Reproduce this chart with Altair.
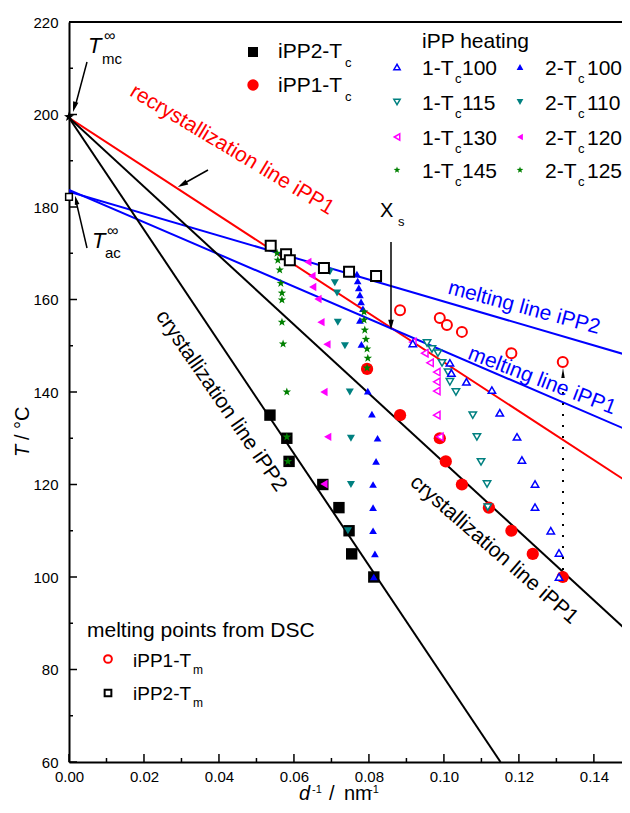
import altair as alt
import pandas as pd

# ---------------- data ----------------
# straight lines (two end points each)
line_x = [0.0, 0.15]
recryst_T = [199.3, 120.0]      # recrystallization line iPP1 (red)
melt2_T = [183.3, 147.7]        # melting line iPP2 (blue)
melt1_T = [183.7, 131.4]        # melting line iPP1 (blue)
cryst1_T = [199.3, 87.5]        # crystallization line iPP1 (black)
cryst2_x = [0.0, 0.1151]
cryst2_T = [199.3, 60.0]        # crystallization line iPP2 (black)

# crystallization temperatures
ipp2_tc_x = [0.0536, 0.0581, 0.0587, 0.0677, 0.0720, 0.0747, 0.0754, 0.0813]
ipp2_tc_T = [135, 130, 125, 120, 115, 110, 105, 100]
ipp1_tc_x = [0.0795, 0.0883, 0.0989, 0.1005, 0.1048, 0.1120, 0.1180, 0.1237, 0.1317]
ipp1_tc_T = [145, 135, 130, 125, 120, 115, 110, 105, 100]

# melting points from DSC
ipp1_tm_x = [0.0883, 0.0989, 0.1008, 0.1048, 0.1180, 0.1317]
ipp1_tm_T = [157.7, 156.0, 154.5, 153.0, 148.4, 146.5]
ipp2_tm_x = [0.0538, 0.0579, 0.0589, 0.0680, 0.0747, 0.0819]
ipp2_tm_T = [171.6, 169.8, 168.5, 166.8, 166.0, 165.1]

# iPP heating series
h1_100_x = [0.0917, 0.1016, 0.1020, 0.1060, 0.1128, 0.1149, 0.1195, 0.1208, 0.1243, 0.1243, 0.1285, 0.1307, 0.1307]
h1_100_T = [150.5, 146.3, 144.1, 142.2, 140.4, 135.5, 130.3, 125.3, 120.1, 115.1, 110.0, 105.2, 100.0]
h1_115_x = [0.0955, 0.0968, 0.0984, 0.0995, 0.1011, 0.1016, 0.1032, 0.1077, 0.1088, 0.1099, 0.1115, 0.1117]
h1_115_T = [150.6, 149.3, 148.4, 146.3, 144.3, 142.2, 140.0, 135.0, 130.3, 124.9, 120.1, 115.1]
h1_130_x = [0.0917, 0.0949, 0.0963, 0.0981, 0.0981, 0.0981, 0.0981, 0.0989]
h1_130_T = [150.8, 148.4, 146.3, 144.3, 142.2, 140.2, 135.0, 130.3]
h1_145_x = [0.0795, 0.0797, 0.0795, 0.0792, 0.0789, 0.0787, 0.0787]
h1_145_T = [145.2, 147.3, 149.3, 151.4, 153.4, 155.6, 157.3]

h2_100_x = [0.0768, 0.0770, 0.0773, 0.0776, 0.0779, 0.0784, 0.0776, 0.0780, 0.0797, 0.0808,
            0.0823, 0.0819, 0.0811, 0.0811, 0.0811, 0.0816, 0.0813]
h2_100_T = [165.5, 164.0, 162.5, 161.0, 159.5, 158.0, 155.5, 150.3, 140.2, 135.2,
            130.0, 125.0, 120.0, 115.0, 110.0, 105.0, 100.0]
h2_110_x = [0.0696, 0.0709, 0.0715, 0.0717, 0.0736, 0.0749, 0.0752, 0.0752, 0.0744]
h2_110_T = [166.0, 163.6, 161.4, 155.1, 150.0, 140.0, 130.0, 120.0, 110.0]
h2_120_x = [0.0637, 0.0648, 0.0650, 0.0664, 0.0672, 0.0688, 0.0680, 0.0690, 0.0680]
h2_120_T = [168.1, 165.1, 162.7, 160.1, 155.1, 150.3, 140.0, 130.3, 120.1]
h2_125_x = [0.0555, 0.0557, 0.0562, 0.0565, 0.0568, 0.0568, 0.0568, 0.0571, 0.0581, 0.0581, 0.0584]
h2_125_T = [170.0, 168.5, 166.4, 163.5, 161.4, 159.9, 155.1, 150.4, 140.0, 130.3, 125.0]

# extrapolated equilibrium temperatures at d^-1 = 0
t_mc_x, t_mc_T = [0.0], [199.5]
t_ac_x, t_ac_T = [0.0], [182.2]

x_major = [0.00, 0.02, 0.04, 0.06, 0.08, 0.10, 0.12, 0.14]
x_minor = [0.01, 0.03, 0.05, 0.07, 0.09, 0.11, 0.13]
y_major = [60, 80, 100, 120, 140, 160, 180, 200, 220]
y_minor = [70, 90, 110, 130, 150, 170, 190, 210]

heat_col1 = ["100", "115", "130", "145"]
heat_col2 = ["100", "110", "120", "125"]

# ---------------- layout / styles ----------------
FONT = "Liberation Sans"
W, H = 553, 740
PL, PT, PR, PB = 61, 14, 0, 43
X0, Y0 = 8 + PL, 8 + PT

xs = alt.Scale(domain=[0, 0.1475], nice=False, zero=False)
ys = alt.Scale(domain=[60, 220], nice=False, zero=False)

STAR = "M0,-1L0.235,-0.324L0.951,-0.309L0.38,0.124L0.588,0.809L0,0.4L-0.588,0.809L-0.38,0.124L-0.951,-0.309L-0.235,-0.324Z"
ARROW = "M0,-1L0.45,0.7L-0.45,0.7Z"
WEDGE = "M0,-1L0.35,1L-0.35,1Z"

BLUE, TEAL, MAG, GREEN = "#0000ff", "#008080", "#ff00ff", "#008000"

one = pd.DataFrame({"a": [0]})

XAXIS = alt.Axis(values=x_major, format=".2f", ticks=False, tickSize=0, domain=True, domainColor="black",
                 domainWidth=2, labelFont=FONT, labelFontSize=15, labelColor="black", labelPadding=7,
                 labelFlush=False, labelOverlap=False, grid=False, title=None)
YAXIS = alt.Axis(values=y_major, format="d", ticks=False, tickSize=0, domain=True, domainColor="black",
                 domainWidth=2, labelFont=FONT, labelFontSize=15, labelColor="black", labelPadding=11,
                 labelFlush=False, labelOverlap=False, grid=False, title=None)


def xenc():
    return alt.X("x:Q", scale=xs, axis=XAXIS)


def yenc():
    return alt.Y("T:Q", scale=ys, axis=YAXIS)


def line(xv, tv, color, width=2):
    df = pd.DataFrame({"x": xv, "T": tv})
    return alt.Chart(df).mark_line(color=color, strokeWidth=width, clip=True).encode(x=xenc(), y=yenc())


def scatter(xv, tv, shape, size, fill, stroke=None, sw=0.0):
    df = pd.DataFrame({"x": xv, "T": tv})
    kw = dict(shape=shape, size=size, filled=True, fill=fill, opacity=1, fillOpacity=1)
    if stroke is not None:
        kw.update(stroke=stroke, strokeWidth=sw, strokeOpacity=1)
    else:
        kw.update(strokeWidth=0)
    return alt.Chart(df).mark_point(**kw).encode(x=xenc(), y=yenc())


def sym(px, py, shape, size, fill, stroke=None, sw=0.0, angle=0):
    kw = dict(shape=shape, size=size, filled=True, fill=fill, opacity=1, fillOpacity=1, angle=angle)
    if stroke is not None:
        kw.update(stroke=stroke, strokeWidth=sw, strokeOpacity=1)
    else:
        kw.update(strokeWidth=0)
    return alt.Chart(one).mark_point(**kw).encode(x=alt.value(px - X0), y=alt.value(py - Y0))


def txt(s, px, py, size=20, color="black", style="normal", angle=0, align="left", baseline="alphabetic"):
    return alt.Chart(one).mark_text(
        text=s, font=FONT, fontSize=size, color=color, fontStyle=style, angle=angle,
        align=align, baseline=baseline).encode(x=alt.value(px - X0), y=alt.value(py - Y0))


def seg(x1, y1, x2, y2, width=1.5, color="black", dash=None):
    kw = dict(color=color, strokeWidth=width)
    if dash is not None:
        kw["strokeDash"] = dash
    return alt.Chart(one).mark_rule(**kw).encode(
        x=alt.value(x1 - X0), y=alt.value(y1 - Y0), x2=alt.value(x2 - X0), y2=alt.value(y2 - Y0))


layers = []
# lines
layers.append(line(line_x, recryst_T, "red"))
layers.append(line(line_x, melt2_T, BLUE))
layers.append(line(line_x, melt1_T, BLUE))
layers.append(line(line_x, cryst1_T, "black"))
layers.append(line(cryst2_x, cryst2_T, "black"))

# inward ticks and top frame
layers.append(alt.Chart(pd.DataFrame({"x": x_major})).mark_rule(color="black", strokeWidth=1.5).encode(
    x=xenc(), y=alt.value(H), y2=alt.value(H - 8)))
layers.append(alt.Chart(pd.DataFrame({"x": x_minor})).mark_rule(color="black", strokeWidth=1.5).encode(
    x=xenc(), y=alt.value(H), y2=alt.value(H - 4)))
layers.append(alt.Chart(pd.DataFrame({"T": y_major})).mark_rule(color="black", strokeWidth=1.5).encode(
    y=yenc(), x=alt.value(0), x2=alt.value(8)))
layers.append(alt.Chart(pd.DataFrame({"T": y_minor})).mark_rule(color="black", strokeWidth=1.5).encode(
    y=yenc(), x=alt.value(0), x2=alt.value(4)))
layers.append(alt.Chart(one).mark_rule(color="black", strokeWidth=2).encode(
    x=alt.value(0), x2=alt.value(W), y=alt.value(0)))

# dotted guide under the last iPP1 melting point
layers.append(seg(563, 392, 563, 575, width=2, dash=[2, 9]))

# crystallization temperature points
layers.append(scatter(ipp2_tc_x, ipp2_tc_T, "square", 130, "black"))
layers.append(scatter(ipp1_tc_x, ipp1_tc_T, "circle", 150, "red"))

# heating series (filled = iPP2, open = iPP1)
layers.append(scatter(h2_125_x, h2_125_T, STAR, 80, GREEN))
layers.append(scatter(h2_120_x, h2_120_T, "triangle-left", 70, MAG))
layers.append(scatter(h2_110_x, h2_110_T, "triangle-down", 65, TEAL))
layers.append(scatter(h2_100_x, h2_100_T, "triangle-up", 60, BLUE))
layers.append(scatter(h1_145_x, h1_145_T, STAR, 80, GREEN))
layers.append(scatter(h1_130_x, h1_130_T, "triangle-left", 55, "white", MAG, 1.5))
layers.append(scatter(h1_115_x, h1_115_T, "triangle-down", 55, "white", TEAL, 1.5))
layers.append(scatter(h1_100_x, h1_100_T, "triangle-up", 55, "white", BLUE, 1.5))

# DSC melting points
layers.append(scatter(ipp1_tm_x, ipp1_tm_T, "circle", 100, "white", "red", 2))
layers.append(scatter(ipp2_tm_x, ipp2_tm_T, "square", 100, "white", "black", 2))

# extrapolated points
layers.append(scatter(t_mc_x, t_mc_T, STAR, 110, "black"))
layers.append(scatter(t_ac_x, t_ac_T, "square", 45, "white", "black", 1.5))

# annotation arrows
layers.append(seg(87, 62, 75, 107))
layers.append(sym(74.6, 106.2, ARROW, 150, "black", angle=195))
layers.append(seg(87, 248, 76, 201))
layers.append(sym(76.3, 200.9, ARROW, 110, "black", angle=347))
layers.append(seg(208, 170, 183, 184))
layers.append(sym(183.2, 184.1, ARROW, 150, "black", angle=240.6))
layers.append(seg(391, 242, 391, 325))
layers.append(sym(391, 324, ARROW, 150, "black", angle=180))
layers.append(sym(563, 373, WEDGE, 100, "black"))

# T labels
layers.append(txt("T", 88, 53, 22, style="italic"))
layers.append(txt("\u221e", 104, 41, 16))
layers.append(txt("mc", 102, 64, 15))
layers.append(txt("T", 92, 248, 22, style="italic"))
layers.append(txt("\u221e", 107, 236, 16))
layers.append(txt("ac", 105, 258, 15))
layers.append(txt("X", 380, 217, 20))
layers.append(txt("s", 398, 226, 13))

# line labels
layers.append(txt("recrystallization line iPP1", 232, 150, 21, "red", angle=31, align="center", baseline="middle"))
layers.append(txt("melting line iPP2", 524, 308, 21, BLUE, angle=15, align="center", baseline="middle"))
layers.append(txt("melting line iPP1", 542, 381, 21, BLUE, angle=21, align="center", baseline="middle"))
layers.append(txt("crystallization line iPP1", 494, 550, 21, angle=41, align="center", baseline="middle"))
layers.append(txt("crystallization line iPP2", 221, 401, 21, angle=55.5, align="center", baseline="middle"))

# legend: crystallization temperatures
layers.append(sym(253, 52, "square", 100, "black"))
layers.append(txt("iPP2-T", 278, 58, 21))
layers.append(txt("c", 345, 67, 13))
layers.append(sym(253, 85, "circle", 130, "red"))
layers.append(txt("iPP1-T", 278, 92, 21))
layers.append(txt("c", 345, 101, 13))

# legend: iPP heating
layers.append(txt("iPP heating", 422, 48, 21))
row_base = [75, 110, 145, 178]
col1_styles = [("triangle-up", 40, "white", BLUE, 1.5), ("triangle-down", 40, "white", TEAL, 1.5),
               ("triangle-left", 40, "white", MAG, 1.5), (STAR, 50, GREEN, None, 0)]
col2_styles = [("triangle-up", 45, BLUE, None, 0), ("triangle-down", 45, TEAL, None, 0),
               ("triangle-left", 45, MAG, None, 0), (STAR, 50, GREEN, None, 0)]
for i, yb in enumerate(row_base):
    s = col1_styles[i]
    layers.append(sym(397, yb - 8, s[0], s[1], s[2], s[3], s[4]))
    layers.append(txt("1-T", 422, yb, 21))
    layers.append(txt("c", 455, yb + 8, 13))
    layers.append(txt(heat_col1[i], 462, yb, 21))
    s = col2_styles[i]
    layers.append(sym(520, yb - 8, s[0], s[1], s[2], s[3], s[4]))
    layers.append(txt("2-T", 545, yb, 21))
    layers.append(txt("c", 578, yb + 8, 13))
    layers.append(txt(heat_col2[i], 587, yb, 21))

# legend: melting points from DSC
layers.append(txt("melting points from DSC", 87, 637, 21))
layers.append(sym(108, 659, "circle", 60, "white", "red", 2))
layers.append(txt("iPP1-T", 133, 667, 19))
layers.append(txt("m", 193, 674, 12))
layers.append(sym(108, 693, "square", 45, "white", "black", 2))
layers.append(txt("iPP2-T", 133, 700, 19))
layers.append(txt("m", 193, 707, 12))

# axis titles
layers.append(txt("T", 29, 457, 20, style="italic", angle=270))
layers.append(txt("/ \u00b0C", 29, 440, 20, angle=270))
layers.append(txt("d", 299, 800, 20, style="italic"))
layers.append(txt("-1", 312, 793, 11))
layers.append(txt("/", 329, 800, 20))
layers.append(txt("nm", 344, 800, 20))
layers.append(txt("-1", 369, 793, 11))

chart = alt.layer(*layers).properties(
    width=W, height=H,
    autosize=alt.AutoSizeParams(type="none"),
    padding={"left": PL, "top": PT, "right": PR, "bottom": PB},
    background="white",
).configure_view(stroke="transparent")

chart.save("out.html", embed_options={"renderer": "svg", "actions": False})
